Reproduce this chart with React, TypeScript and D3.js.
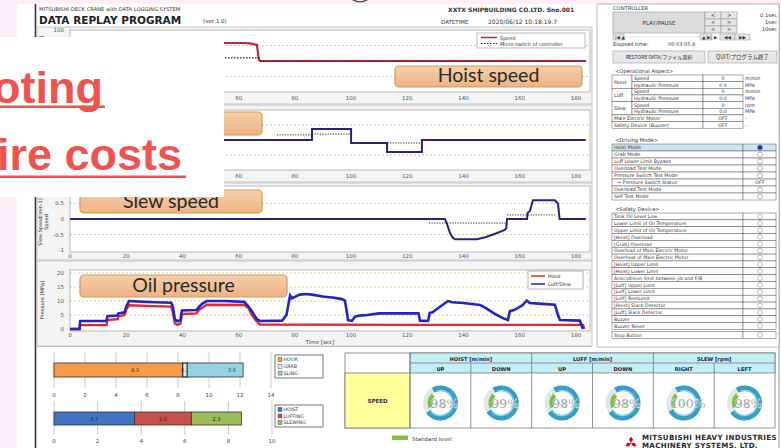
import React from "react";
import * as d3 from "d3";

type P = [number, number];

// ---------- time-series data (t [sec], value) ----------
const timeTicks = [0, 20, 40, 60, 80, 100, 120, 140, 160, 180];

const hoistSpeed: P[] = [[0, 0], [4, 0], [6, 58], [62, 58], [64, 57], [66.5, 52], [67.2, 4], [67.6, 0], [183.5, 0]];
const hoistSwitch: P[][] = [[[5, 10], [67.6, 10]], [[67.6, 0], [183.5, 0]]];

const luffSpeed: P[] = [[0, 0], [86.1, 0.37], [100, -0.1], [112.8, -0.4], [125.2, 0], [183.5, 0]];
const luffSwitch: P[][] = [[[73.6, 0.17], [86.1, 0.17]], [[86.1, 0.2], [100, 0.2]], [[100, -0.1], [125.2, -0.1]]];

const slewSpeed: P[] = [[0, 0], [133.4, 0], [134.1, -0.15], [135.2, -0.45], [136.2, -0.6], [137, -0.65], [144.8, -0.65], [148, -0.58], [151, -0.48], [154.7, -0.35], [155.2, -0.3], [155.5, 0], [162.6, 0], [162.8, 0.2], [163.6, 0.25], [164.7, 0.6], [172.5, 0.6], [173.6, 0.5], [174.2, 0], [183.5, 0]];
const slewSwitch: P[][] = [[[127.7, -0.13], [155.5, -0.13]], [[155.5, 0.13], [172.5, 0.13]]];

const oilHoist: P[] = [[0, 0], [3.4, 0], [3.6, 1.4], [13, 1.4], [13.3, 3.2], [17, 3.5], [17.2, 4.5], [19.4, 5], [20, 7], [21, 8.5], [30, 8.2], [36, 8], [36.6, 6], [37.3, 2], [38.2, 1.5], [39.3, 2], [39.8, 5.4], [45, 5.6], [46, 7], [48.7, 8.7], [62, 8.6], [63.5, 7.5], [64.7, 5], [66.2, 3], [67.6, 1.6], [120, 1.5], [182.5, 1.5], [183, 0]];
const oilLuffSlew: P[] = [[0, 0], [3.4, 0], [3.6, 2.9], [13, 2.9], [13.3, 4.6], [16.8, 4.8], [17.2, 5.6], [19.4, 6], [20, 8], [21, 10], [25, 9.8], [30, 9.6], [36, 9.4], [36.6, 8], [37.3, 3.5], [38.2, 2.8], [39.3, 3.2], [39.8, 6.6], [45, 6.8], [46, 8], [47, 9], [48.7, 10], [55, 10], [62, 9.7], [63.5, 8], [64.7, 6.5], [65.5, 5], [66.5, 3.5], [67.6, 2.9], [75.5, 3], [77, 5], [78.3, 12], [79, 11], [80, 11.5], [81.8, 12.3], [84, 12.5], [86, 12.3], [90, 11.6], [94, 11.2], [96.8, 10.7], [97.8, 10.2], [98.5, 6], [98.9, 3.2], [100.3, 2.9], [101.4, 4.4], [103, 4.8], [105.7, 5], [110, 5.6], [124, 5.6], [124.5, 3], [127.4, 2.9], [128, 5.8], [129, 6], [131, 7.5], [134.5, 10], [136, 9.6], [140, 9.3], [145.9, 8.6], [148, 7.5], [151, 5.5], [154, 3.9], [155.8, 3.2], [156.5, 6.4], [158, 6.8], [161, 8.5], [162.5, 10.2], [163.5, 9.3], [168, 9], [172.5, 8.7], [173.6, 5], [174.3, 3.2], [181.4, 3], [182.5, 0]];

// ---------- bar data ----------
const loadCats = ["HOOK", "GRAB", "SLING"];
const loadVals = [8.3, 0.3, 3.6];
const loadTicks = [0, 2, 4, 6, 8, 10, 12, 14];
const driveCats = ["HOIST", "LUFFING", "SLEWING"];
const driveVals = [3.7, 2.6, 2.3];
const driveTicks = [0, 2, 4, 6, 8, 10];

// ---------- gauge data ----------
const gaugeGroups = ["HOIST [m/min]", "LUFF [m/min]", "SLEW [rpm]"];
const gaugeDirs = ["UP", "DOWN", "UP", "DOWN", "RIGHT", "LEFT"];
const gaugePct = [98, 99, 98, 98, 100, 98];

// ---------- right panel lists ----------
const opGroups = ["Hoist", "Luff", "Slew"];
const opItems = ["Speed", "Hydraulic Pressure"];
const opValues = ["0", "0.0", "0", "0.0", "0", "0.0"];
const opUnits = ["m/min", "MPa", "m/min", "MPa", "rpm", "MPa"];
const opExtra = ["Main Electric Motor", "Safety Device (Buzzer)"];
const opExtraVals = ["OFF", "OFF"];
const driveModes = ["Hoist Mode", "Grab Mode", "Luff Lower Limit Bypass", "Overload Test Mode", "Pressure Switch Test Mode", "  \u2192 Pressure Switch Status", "Overload Test Mode", "Self Test Mode"];
const driveStatus = ["on", "off", "off", "off", "off", "OFF", "off", "off"];
const safetyItems = ["Tank Oil Level Low", "Lower Limit of Oil Temperature", "Upper Limit of Oil Temperature", "[Hoist] Overload", "[Grab] Overload", "Overload of  Main Electric Motor", "Overheat of Main Electric Motor", "[Hoist] Upper Limit", "[Hoist] Lower Limit", "Anticollision limit between jib and F/B", "[Luff] Upper Limit", "[Luff] Lower Limit", "[Luff] RestLimit", "[Hoist] Slack Detector", "[Luff] Slack Detector", "Buzzer", "Buzzer Reset"];

const SM = "DejaVu Sans";

function OrangeLabel({ x0, x1, y0, y1, text }: any) {
  return (
    <g>
      <rect x={x0} y={y0} width={x1 - x0} height={y1 - y0} rx={4} fill="url(#orangeGrad)" stroke="#d29a5c" strokeWidth={1.2} />
      {text && <text x={(x0 + x1) / 2} y={y1 - 5} textAnchor="middle" fontFamily="Lato" fontSize={19.5} fill="#2a2a2a">{text}</text>}
    </g>
  );
}

export default function App() {
  const x = d3.scaleLinear().domain([0, 185]).range([70, 590]);

  // minX: tick labels left of this are covered by the white overlay box
  const charts = [
    { f: [27, 104], p: [30, 92], dom: [-100, 100], lab: 99.5, ticks: [100], grid: [-50, 50], minX: 224 },
    { f: [105, 182], p: [110, 170], dom: [-1, 1], lab: 177.5, ticks: [] as number[], grid: [-0.5, 0.5], minX: 224 },
    { f: [183, 260], p: [186, 252], dom: [-1.06, 1.06], lab: 257.5, ticks: [-1, -0.5, 0, 0.5], grid: [-0.5, 0.5], minX: 0 },
    { f: [261, 346], p: [270, 331], dom: [-0.7, 21.1], lab: 336.5, ticks: [0, 5, 10, 15, 20], grid: [5, 10, 15, 20], minX: 0 },
  ];
  const ys = charts.map((c) => d3.scaleLinear().domain(c.dom).range([c.p[1], c.p[0]]));
  const mk = (i: number, curve: any = d3.curveLinear) =>
    d3.line<P>().x((d) => x(d[0])).y((d) => ys[i](d[1])).curve(curve);

  const xa = d3.scaleLinear().domain([0, 14]).range([54, 271]);
  const xb = d3.scaleLinear().domain([0, 10]).range([54, 272]);
  const loadCum = [0, ...d3.cumsum(loadVals)];
  const driveCum = [0, ...d3.cumsum(driveVals)];
  const loadColors = ["#f79a4a", "#e8e8e8", "#93d3e6"];
  const loadLabelAt = [0.63, 0.5, 0.8];
  const driveColors = ["#3f74c2", "#c8504c", "#9bbb59"];

  const colX = d3.scaleBand<number>().domain(d3.range(6)).range([410, 775]);
  const arc = d3.arc<any>();
  const a0 = -Math.PI / 6;
  const span = (3 * Math.PI) / 2;

  return (
    <svg width={781} height={448} style={{ position: "absolute", left: 0, top: 0, display: "block" }} fontFamily={SM}>
      <defs>
        <linearGradient id="orangeGrad" x1="0" y1="0" x2="0" y2="1">
          <stop offset="0" stopColor="#f6cfab" />
          <stop offset="1" stopColor="#eeb283" />
        </linearGradient>
        <clipPath id="plotClip">
          <rect x={70} y={0} width={520} height={448} />
        </clipPath>
      </defs>
      <rect x={0} y={0} width={781} height={448} fill="#fbeef6" />
      <path d="M352,0 Q360,5 368,0 L365,0 Q360,2.5 355,0 Z" fill="#444" />
      <rect x={17} y={4} width={764} height={444} fill="#ffffff" />
      <line x1={35.5} y1={4} x2={35.5} y2={448} stroke="#333" strokeWidth={1.6} />
      <line x1={779} y1={4} x2={779} y2={448} stroke="#999" strokeWidth={1} />

      {/* header */}
      <text x={39} y={11} fontSize={5.2} fill="#333">MITSUBISHI DECK CRANE with DATA LOGGING SYSTEM</text>
      <text x={39} y={23.5} fontSize={10.5} fontWeight="bold" fill="#222">DATA REPLAY PROGRAM</text>
      <text x={203} y={23} fontSize={5.5} fill="#333">(ver 1.0)</text>
      <text x={448} y={11.5} fontSize={6} fontWeight="bold" fill="#333">XXTX SHIPBUILDING CO.LTD.  Sno.001</text>
      <text x={441} y={24} fontSize={5.5} fill="#333">DATETIME</text>
      <text x={488} y={24} fontSize={6} fill="#333">2020/06/12 10:18:19.7</text>

      {/* charts */}
      {charts.map((c, i) => (
        <g key={"frame" + i}>
          <rect x={37} y={c.f[0]} width={555} height={c.f[1] - c.f[0]} fill="#f4f4f4" stroke="#c4c4c4" strokeWidth={1} />
          <rect x={70} y={c.p[0]} width={520} height={c.p[1] - c.p[0]} fill="#ffffff" stroke="#a8a8a8" strokeWidth={0.8} />
          {c.grid.map((g) => (
            <line key={g} x1={70} x2={590} y1={ys[i](g)} y2={ys[i](g)} stroke={i === 3 ? "#c9c27a" : "#b8b8b8"} strokeWidth={0.8} strokeDasharray="2 2" />
          ))}
          {timeTicks.filter((t) => x(t) > c.minX).map((t) => (
            <text key={t} x={x(t)} y={c.lab} textAnchor="middle" fontSize={5.5} fill="#555">{t}</text>
          ))}
          {c.ticks.map((t) => (
            <text key={t} x={64} y={ys[i](t) + 2} textAnchor="end" fontSize={5.5} fill="#555">{t}</text>
          ))}
        </g>
      ))}
      <text x={320} y={343.5} textAnchor="middle" fontSize={5.5} fill="#444">Time [sec]</text>
      <text transform="translate(43,36) rotate(-90)" textAnchor="end" fontSize={5} fill="#333">Hoist Speed [m/min]</text>
      <text transform="translate(42,222) rotate(-90)" textAnchor="middle" fontSize={5} fill="#333">Slew Speed[min-1]</text>
      <text transform="translate(48,222) rotate(-90)" textAnchor="middle" fontSize={5} fill="#333">Speed</text>
      <text transform="translate(43.5,300) rotate(-90)" textAnchor="middle" fontSize={5.2} fill="#333">Pressure [MPa]</text>

      <g clipPath="url(#plotClip)">
        <path d={mk(0)(hoistSpeed) || ""} fill="none" stroke="#b8283f" strokeWidth={2.2} />
        {hoistSwitch.map((s, k) => (
          <path key={k} d={mk(0)(s) || ""} fill="none" stroke="#4a1020" strokeWidth={1.1} strokeDasharray="1.5 1.5" />
        ))}
        <path d={mk(1, d3.curveStepAfter)(luffSpeed) || ""} fill="none" stroke="#24247e" strokeWidth={2} />
        {luffSwitch.map((s, k) => (
          <path key={k} d={mk(1)(s) || ""} fill="none" stroke="#333" strokeWidth={1} strokeDasharray="1.3 1.3" />
        ))}
        <path d={mk(2)(slewSpeed) || ""} fill="none" stroke="#24247e" strokeWidth={2} />
        {slewSwitch.map((s, k) => (
          <path key={k} d={mk(2)(s) || ""} fill="none" stroke="#333" strokeWidth={1} strokeDasharray="1.3 1.3" />
        ))}
        <path d={mk(3)(oilHoist) || ""} fill="none" stroke="#e0282e" strokeWidth={2.4} />
        <path d={mk(3)(oilLuffSlew) || ""} fill="none" stroke="#2424c4" strokeWidth={2.6} />
      </g>

      {/* legends */}
      <rect x={477} y={33} width={108} height={15} fill="#fff" stroke="#999" strokeWidth={0.7} />
      <line x1={481} x2={497} y1={37.5} y2={37.5} stroke="#b8283f" strokeWidth={1.5} />
      <text x={500} y={39.5} fontSize={5} fill="#333">Speed</text>
      <line x1={481} x2={497} y1={43.5} y2={43.5} stroke="#4a1020" strokeWidth={1} strokeDasharray="1.5 1.5" />
      <text x={500} y={45.5} fontSize={5} fill="#333">Micro switch of controller</text>

      <rect x={528} y={271} width={55} height={18} fill="#fff" stroke="#999" strokeWidth={0.7} />
      <line x1={531} x2={545} y1={276} y2={276} stroke="#e0282e" strokeWidth={1.5} />
      <text x={548} y={278} fontSize={5} fill="#333">Hoist</text>
      <line x1={531} x2={545} y1={284} y2={284} stroke="#2424c4" strokeWidth={1.5} />
      <text x={548} y={286} fontSize={5} fill="#333">Luff/Slew</text>

      <OrangeLabel x0={395} x1={582} y0={66} y1={87} text="Hoist speed" />
      <OrangeLabel x0={80} x1={262} y0={112} y1={135} text="" />
      <OrangeLabel x0={80} x1={262} y0={190} y1={213} text="Slew speed" />
      <OrangeLabel x0={80} x1={287} y0={275} y1={297} text="Oil pressure" />

      {/* bar chart A */}
      {loadTicks.map((t) => (
        <g key={t}>
          <line x1={xa(t)} x2={xa(t)} y1={352} y2={388} stroke="#bbb" strokeWidth={0.8} />
          <text x={xa(t)} y={397} textAnchor="middle" fontSize={5.5} fill="#444">{t}</text>
        </g>
      ))}
      {loadVals.map((v, k) => (
        <g key={k}>
          <rect x={xa(loadCum[k])} y={363} width={xa(loadCum[k + 1]) - xa(loadCum[k])} height={14} fill={loadColors[k]} stroke="#333" strokeWidth={k === 1 ? 1.3 : 0.8} />
          <text x={xa(loadCum[k] + v * loadLabelAt[k])} y={372} textAnchor="middle" fontSize={5} fill="#333">{v}</text>
        </g>
      ))}
      <rect x={275} y={355} width={48} height={23} fill="#fff" stroke="#555" strokeWidth={0.8} />
      {loadCats.map((c, k) => (
        <g key={c}>
          <rect x={278} y={357.5 + k * 6.8} width={4} height={4} fill={loadColors[k]} stroke="#555" strokeWidth={0.5} />
          <text x={283.5} y={361.3 + k * 6.8} fontSize={4.8} fill="#333">{c}</text>
        </g>
      ))}

      {/* bar chart B */}
      {driveTicks.map((t) => (
        <g key={t}>
          <line x1={xb(t)} x2={xb(t)} y1={401} y2={435} stroke="#bbb" strokeWidth={0.8} />
          <text x={xb(t)} y={443} textAnchor="middle" fontSize={5.5} fill="#444">{t}</text>
        </g>
      ))}
      {driveVals.map((v, k) => (
        <g key={k}>
          <rect x={xb(driveCum[k])} y={412} width={xb(driveCum[k + 1]) - xb(driveCum[k])} height={13} fill={driveColors[k]} stroke="#333" strokeWidth={0.8} />
          <text x={xb(driveCum[k] + v / 2)} y={420.5} textAnchor="middle" fontSize={5} fill="#222">{v}</text>
        </g>
      ))}
      <rect x={275} y={405} width={48} height={22} fill="#fff" stroke="#555" strokeWidth={0.8} />
      {driveCats.map((c, k) => (
        <g key={c}>
          <rect x={278} y={407.5 + k * 6.5} width={4} height={4} fill={driveColors[k]} stroke="#555" strokeWidth={0.5} />
          <text x={283.5} y={411.3 + k * 6.5} fontSize={4.8} fill="#333">{c}</text>
        </g>
      ))}
      <line x1={37} x2={592} y1={346.5} y2={346.5} stroke="#bbb" strokeWidth={0.8} />

      {/* speed table */}
      <rect x={345} y={353} width={430} height={75} fill="#fff" stroke="#777" strokeWidth={0.8} />
      <rect x={410} y={353} width={365} height={20} fill="#c3eef6" stroke="#777" strokeWidth={0.8} />
      <rect x={345} y={373} width={65} height={55} fill="#ffff9c" stroke="#777" strokeWidth={0.8} />
      <text x={377.5} y={402.5} textAnchor="middle" fontSize={5.5} fontWeight="bold" fill="#333">SPEED</text>
      <line x1={410} x2={775} y1={363} y2={363} stroke="#777" strokeWidth={0.8} />
      {gaugeGroups.map((g, k) => (
        <g key={g}>
          <line x1={colX(k * 2)!} x2={colX(k * 2)!} y1={353} y2={428} stroke="#777" strokeWidth={0.8} />
          <text x={colX(k * 2)! + colX.bandwidth()} y={360.5} textAnchor="middle" fontSize={5.2} fontWeight="bold" fill="#223">{g}</text>
        </g>
      ))}
      {gaugeDirs.map((d, k) => {
        const cx = colX(k)! + colX.bandwidth() / 2;
        const cy = 403;
        const end = a0 + (gaugePct[k] / 100) * span;
        return (
          <g key={k}>
            {k % 2 === 1 && <line x1={colX(k)!} x2={colX(k)!} y1={363} y2={428} stroke="#777" strokeWidth={0.8} />}
            <text x={cx} y={370.5} textAnchor="middle" fontSize={5.2} fontWeight="bold" fill="#223">{d}</text>
            <g transform={`translate(${cx},${cy})`}>
              <path d={arc({ innerRadius: 12, outerRadius: 17.5, startAngle: 0, endAngle: 2 * Math.PI }) || ""} fill="#dde8ec" />
              <path d={arc({ innerRadius: 12, outerRadius: 17.5, startAngle: a0, endAngle: end }) || ""} fill="#339fc6" />
              <path d={arc({ innerRadius: 12, outerRadius: 13.3, startAngle: a0 + 0.2, endAngle: end - 0.1 }) || ""} fill="#8fd0e4" />
              <path d={arc({ innerRadius: 8.5, outerRadius: 12.8, startAngle: a0 + span + 0.1, endAngle: a0 + span + 1.35, cornerRadius: 1 }) || ""} fill="#7fc23a" />
              <text x={4} y={4.5} textAnchor="middle" fontSize={12.5} fill="#56636a" stroke="#fff" strokeWidth={0.4}>{gaugePct[k]}%</text>
            </g>
          </g>
        );
      })}
      <rect x={392} y={435.5} width={16} height={4.5} fill="#86c440" />
      <text x={412} y={440.5} fontSize={5.5} fill="#444">Standard level</text>

      {/* Mitsubishi logo */}
      <g transform="translate(631,443)" fill="#e60012">
        {[0, 120, 240].map((r) => (
          <path key={r} transform={`rotate(${r})`} d="M0,0 L2,-3.2 L0,-6.4 L-2,-3.2 Z" />
        ))}
      </g>
      <text x={642} y={440} fontSize={7.1} fontWeight="bold" fill="#2a2a2a" letterSpacing={0.3}>MITSUBISHI HEAVY INDUSTRIES</text>
      <text x={642} y={447.5} fontSize={7.1} fontWeight="bold" fill="#2a2a2a" letterSpacing={0.3}>MACHINERY SYSTEMS, LTD.</text>

      {/* right panel */}
      <rect x={597} y={4} width={182} height={343} fill="#fff" stroke="#aaa" strokeWidth={0.8} />
      <text x={613} y={10} fontSize={5.2} fill="#333">CONTROLLER</text>
      <rect x={613} y={12} width={92} height={21} fill="#dcdcdc" stroke="#999" strokeWidth={0.6} />
      <text x={659} y={24.5} textAnchor="middle" fontSize={5.5} fill="#333">PLAY/PAUSE</text>
      {[0, 1, 2].map((r) => (
        <g key={r}>
          {[0, 1].map((cI) => (
            <g key={cI}>
              <rect x={705 + cI * 16} y={12 + r * 7} width={16} height={7} fill="#e6e6e6" stroke="#999" strokeWidth={0.6} />
              <text x={713 + cI * 16} y={17.3 + r * 7} textAnchor="middle" fontSize={5} fill="#333">{cI === 0 ? "<" : ">"}</text>
            </g>
          ))}
          <text x={777} y={17 + r * 7} textAnchor="end" fontSize={5.2} fill="#333">{["0.1sec", "1sec", "10sec"][r]}</text>
        </g>
      ))}
      <rect x={613} y={34} width={11} height={6} fill="#e6e6e6" stroke="#999" strokeWidth={0.5} />
      <text x={615} y={38.8} fontSize={4.5} fill="#333">|◀ ▲</text>
      <line x1={624} x2={700} y1={37} y2={37} stroke="#ccc" strokeWidth={0.6} />
      <rect x={700} y={34} width={12} height={6} fill="#e6e6e6" stroke="#999" strokeWidth={0.5} />
      <text x={702} y={38.8} fontSize={4.5} fill="#333">▲ ▶|</text>
      <text x={714} y={38.8} fontSize={4.5} fill="#333">▶</text>
      <rect x={720} y={34} width={15} height={6} fill="#e6e6e6" stroke="#999" strokeWidth={0.5} />
      <text x={727.5} y={38.8} textAnchor="middle" fontSize={4.5} fill="#333">◀◀</text>
      <rect x={735} y={34} width={15} height={6} fill="#e6e6e6" stroke="#999" strokeWidth={0.5} />
      <text x={742.5} y={38.8} textAnchor="middle" fontSize={4.5} fill="#333">▶▶</text>
      <text x={613} y={45.5} fontSize={5.2} fill="#333">Elapsed time:</text>
      <text x={668} y={45.5} fontSize={5} fill="#333">00:03:05.4</text>
      <rect x={613} y={51} width={92} height={12} fill="#e8e8e8" stroke="#999" strokeWidth={0.6} />
      <text x={659} y={59} textAnchor="middle" fontSize={5} fontFamily="Noto Sans CJK JP, DejaVu Sans" fill="#333">RESTORE DATA/ファイル選択</text>
      <rect x={708} y={51} width={69} height={12} fill="#e8e8e8" stroke="#999" strokeWidth={0.6} />
      <text x={742.5} y={59} textAnchor="middle" fontSize={5.5} fontFamily="Noto Sans CJK JP, DejaVu Sans" fill="#333">QUIT/プログラム終了</text>

      <text x={615} y={73} fontSize={5.2} fill="#333">{"<Operational Aspect>"}</text>
      {opGroups.map((g, gi) => (
        <g key={g}>
          <rect x={612} y={75 + gi * 13.3} width={20} height={13.3} fill="#fff" stroke="#555" strokeWidth={0.5} />
          <text x={614} y={83.5 + gi * 13.3} fontSize={5} fill="#333">{g}</text>
          {opItems.map((it, ii) => {
            const r = gi * 2 + ii;
            const y0 = 75 + r * 6.65;
            return (
              <g key={it}>
                <rect x={632} y={y0} width={71} height={6.65} fill="#fff" stroke="#555" strokeWidth={0.5} />
                <text x={634} y={y0 + 5} fontSize={4.8} fill="#333">{it}</text>
                <rect x={703} y={y0} width={40} height={6.65} fill="#fff" stroke="#555" strokeWidth={0.5} />
                <text x={723} y={y0 + 5} textAnchor="middle" fontSize={4.8} fill="#333">{opValues[r]}</text>
                <text x={745} y={y0 + 5} fontSize={4.8} fill="#333">{opUnits[r]}</text>
              </g>
            );
          })}
        </g>
      ))}
      {opExtra.map((e, k) => {
        const y0 = 75 + (6 + k) * 6.65;
        return (
          <g key={e}>
            <rect x={612} y={y0} width={91} height={6.65} fill="#fff" stroke="#555" strokeWidth={0.5} />
            <text x={614} y={y0 + 5} fontSize={4.8} fill="#333">{e}</text>
            <rect x={703} y={y0} width={40} height={6.65} fill="#fff" stroke="#555" strokeWidth={0.5} />
            <text x={723} y={y0 + 5} textAnchor="middle" fontSize={4.8} fill="#333">{opExtraVals[k]}</text>
            <text x={745} y={y0 + 5} fontSize={4.8} fill="#333">-</text>
          </g>
        );
      })}

      <text x={615} y={142} fontSize={5.2} fill="#333">{"<Driving Mode>"}</text>
      {driveModes.map((m, k) => {
        const y0 = 144 + k * 7;
        return (
          <g key={k}>
            <rect x={612} y={y0} width={131} height={7} fill={k === 0 ? "#cde4f1" : "#fff"} stroke="#555" strokeWidth={0.5} />
            <rect x={743} y={y0} width={33} height={7} fill={k === 0 ? "#cde4f1" : "#fff"} stroke="#555" strokeWidth={0.5} />
            <text x={614} y={y0 + 5.2} fontSize={4.8} fill="#333" style={{ whiteSpace: "pre" }}>{m}</text>
            {driveStatus[k] === "OFF" ? (
              <text x={760} y={y0 + 5.2} textAnchor="middle" fontSize={4.8} fill="#333">OFF</text>
            ) : (
              <circle cx={760} cy={y0 + 3.5} r={2.5} fill={driveStatus[k] === "on" ? "#1b35c8" : "#fff"} stroke="#888" strokeWidth={0.6} />
            )}
          </g>
        );
      })}

      <text x={615} y={211} fontSize={5.2} fill="#333">{"<Safety Device>"}</text>
      {[...safetyItems, "Stop Button"].map((s, k) => {
        const y0 = k < safetyItems.length ? 213 + k * 6.85 : 331.5;
        return (
          <g key={k}>
            <rect x={612} y={y0} width={131} height={6.85} fill="#fff" stroke="#555" strokeWidth={0.5} />
            <rect x={743} y={y0} width={33} height={6.85} fill="#fff" stroke="#555" strokeWidth={0.5} />
            <text x={614} y={y0 + 5.1} fontSize={4.7} fill="#333">{s}</text>
            <circle cx={760} cy={y0 + 3.4} r={2.4} fill="#fff" stroke="#888" strokeWidth={0.6} />
          </g>
        );
      })}

      {/* overlay */}
      <rect x={0} y={37} width={224} height={160} fill="#ffffff" />
      <text x={-7} y={103} fontFamily="Liberation Sans" fontWeight="bold" fontSize={45} fill="#ef5350">oting</text>
      <rect x={0} y={105.5} width={105} height={2.5} fill="#ef5350" />
      <text x={-3} y={170} fontFamily="Liberation Sans" fontWeight="bold" fontSize={45} fill="#ef5350">ire costs</text>
      <rect x={0} y={175.5} width={186} height={2.5} fill="#ef5350" />
    </svg>
  );
}
